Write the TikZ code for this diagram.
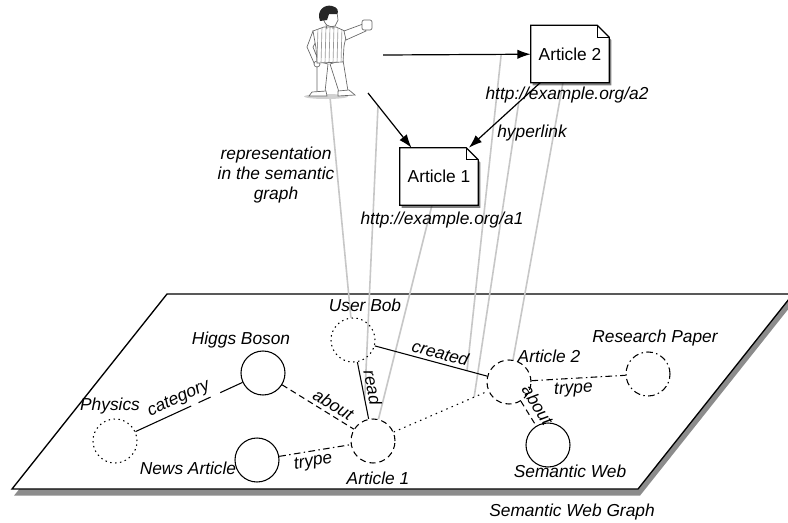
\documentclass[tikz,border=0pt]{standalone}
\usepackage{fontspec}
\setmainfont{Liberation Sans}
\usetikzlibrary{arrows.meta,calc,shadows,backgrounds}
\begin{document}
\begin{tikzpicture}[x=0.75pt,y=-0.75pt,
  every node/.style={font=\fontsize{13}{15}\selectfont},
  lbl/.style={font=\fontsize{13}{15}\selectfont\itshape, inner sep=1.5pt},
  elbl/.style={lbl, sloped, inner sep=2.5pt},
  concept/.style={circle, minimum size=33pt, inner sep=0pt, line width=0.8pt, draw},
  dotring/.style={concept, dash pattern=on 1.1pt off 2.6pt},
  dashring/.style={concept, dash pattern=on 4.5pt off 3pt},
  dashdotring/.style={concept, dash pattern=on 5pt off 2.5pt on 1.1pt off 2.5pt},
  rel/.style={line width=0.8pt},
  dashrel/.style={rel, dash pattern=on 4.5pt off 3pt},
  dashdotrel/.style={rel, dash pattern=on 5pt off 2.5pt on 1.1pt off 2.5pt},
  dotrel/.style={rel, dash pattern=on 1.1pt off 3.2pt},
  docbox/.style={minimum width=58.5pt, minimum height=42.75pt, inner sep=0pt},
  docline/.style={line width=1pt, fill=white,
    drop shadow={shadow xshift=1.5pt, shadow yshift=-2pt, opacity=0.5, fill=black}},
  arr/.style={line width=0.9pt, -{Latex[length=10pt,width=7pt]}},
  proj/.style={line width=1.2pt, draw=black!22},
  fig/.style={line width=0.5pt, draw=black!60},
]
\useasboundingbox (0,0) rectangle (788,522);

% ---------- concepts of the semantic graph ----------
\node[dotring]     (user)     at (353,340) {};
\node[dashring]    (art1)     at (373,441) {};
\node[dashring]    (art2)     at (509,382) {};
\node[dashdotring] (research) at (648,374) {};
\node[concept]     (semweb)   at (548,445) {};
\node[concept]     (higgs)    at (263,373) {};
\node[dotring]     (physics)  at (115,441) {};
\node[concept]     (news)     at (257,460) {};

\node[lbl] (userlbl)     at (365,305) {User Bob};
\node[lbl] (art1lbl)     at (378,478) {Article 1};
\node[lbl] (art2lbl)     at (549,356) {Article 2};
\node[lbl] (researchlbl) at (655,338) {Research Paper};
\node[lbl] (semweblbl)   at (570,471) {Semantic Web};
\node[lbl] (higgslbl)    at (241,340) {Higgs Boson};
\node[lbl] (physicslbl)  at (110,406) {Physics};
\node[lbl] (newslbl)     at (188,468) {News Article};
\node[lbl] (graphlbl)    at (572,512) {Semantic Web Graph};

% ---------- relations ----------
\draw[rel, dash pattern=on 46pt off 6pt on 10pt off 8pt on 30pt]
  (physics) -- node[elbl, above, pos=0.45] (catlbl) {category} (higgs);
\draw[dashrel] (higgs) -- node[elbl, above, pos=0.64] (about1lbl) {about} (art1);
\draw[dashdotrel] (news) -- node[elbl, below, pos=0.45] (trype1lbl) {trype} (art1);
\draw[rel] (user) -- node[elbl, above, pos=0.48] (readlbl) {read}
  coordinate[pos=0.65] (readpt) (art1);
\draw[rel] (user) -- node[elbl, above, pos=0.56] (createdlbl) {created}
  coordinate[pos=0.82] (createdpt) (art2);
\draw[dotrel] (art1) -- coordinate[pos=0.85] (linkpt) (art2);
\draw[dashdotrel] (art2) -- node[elbl, below, pos=0.44] (trype2lbl) {trype} (research);
\draw[dashrel] (art2) -- node[elbl, above, pos=0.42, inner sep=4pt] (about2lbl) {about} (semweb);

% ---------- web documents ----------
\node[docbox] (a1) at (439,176.5) {Article 1};
\node[docbox] (a2) at (570,54) {Article 2};
\node[lbl] (url1)  at (442,220) {http://example.org/a1};
\node[lbl] (url2)  at (567,95)  {http://example.org/a2};
\node[lbl] (hyper) at (532,133) {hyperlink};
\node[lbl, align=center] (replbl) at (276,175) {representation\\in the semantic\\graph};

\coordinate (bobfeet)  at (330,97);
\coordinate (bobreach) at (368,93);
\coordinate (bobhand)  at (383,55);
\coordinate (a1in)   at ($(a1.north west)!0.15!(a1.north east)$);
\coordinate (a1link) at ($(a1.north west)!0.88!(a1.north east)$);
\coordinate (a2out)  at ($(a2.south west)!0.12!(a2.south east)$);

\draw[arr] (bobhand) -- coordinate[pos=0.8] (creatept) (a2);
\draw[arr] (bobreach) -- coordinate[pos=0.23] (readsrc) (a1in);
\draw[arr] (a2out) -- coordinate[pos=0.3] (linksrc) (a1link);

% ---------- the user ----------
\fill[black!18] (326,96.5) ellipse [x radius=22, y radius=2.5];
\draw[fig, fill=white] (317,61) -- (328,64) -- (325,92) -- (317,92) -- cycle;
\draw[fig, fill=white] (330,64) -- (343,60) -- (348,91) -- (339,92) -- cycle;
\draw[fig, fill=white] (312,92) -- (326,91) -- (327,96) -- (309,96) -- cycle;
\draw[fig, fill=white] (338,91) -- (349,90) -- (355,95) -- (338,96) -- cycle;
\draw[fig, fill=white] (313,31) -- (307,47) -- (314,63) -- (319,62) -- (313,47) -- (318,38) -- cycle;
\draw[fig, fill=white] (317,64) circle [radius=3];
\draw[fig, fill=white] (313,31) -- (324,27) -- (336,27) -- (347,32) -- (344,46)
  -- (343,62) -- (317,63) -- (316,48) -- cycle;
\begin{scope}
  \clip (313,31) -- (324,27) -- (336,27) -- (347,32) -- (344,46) -- (343,62) -- (317,63) -- (316,48) -- cycle;
  \foreach \sx in {318,322,...,346} \draw[black!40, line width=0.5pt] (\sx,26) -- (\sx-1,64);
\end{scope}
\draw[fig, fill=white] (344,31) -- (363,24) -- (366,31) -- (346,40) -- cycle;
\draw[fig, fill=white, rounded corners=1.5pt] (362,20) rectangle (372,30);
\draw[fig, fill=white] (323,14) .. controls (323,26) and (330,28) .. (335,26) -- (338,20) -- (337,12) -- cycle;
\fill[black!85] (320,21) .. controls (316,10) and (325,4) .. (332,6)
  .. controls (338,7) and (339,12) .. (337,14) -- (329,14) -- (327,20) -- cycle;
\draw[fig] (326,25) -- (327,29) (333,26) -- (333,29);

% ---------- plane, projections and document outlines ----------
\begin{scope}[on background layer]
  \draw[line width=1pt, fill=white,
    drop shadow={shadow xshift=1.5pt, shadow yshift=-5pt, opacity=0.45, fill=black}]
    (12,489) -- (638,489) -- (793,294) -- (167,294) -- cycle;
  \draw[proj] (bobfeet) -- (user);
  \draw[proj] (readsrc) -- (readpt);
  \draw[proj] ($(a1.south west)!0.41!(a1.south east)$) -- (art1);
  \draw[proj] (creatept) -- (createdpt);
  \draw[proj] (linksrc) -- (linkpt);
  \draw[proj] ($(a2.south west)!0.41!(a2.south east)$) -- (art2);
  \foreach \b in {a1,a2} {
    \draw[docline] (\b.south west) -- (\b.north west) -- ($(\b.north east)+(-12,0)$)
      -- ($(\b.north east)+(0,12)$) -- (\b.south east) -- cycle;
    \draw[line width=0.6pt] ($(\b.north east)+(-12,0)$) -- ($(\b.north east)+(-12,12)$)
      -- ($(\b.north east)+(0,12)$);
  }
\end{scope}
\end{tikzpicture}
\end{document}
